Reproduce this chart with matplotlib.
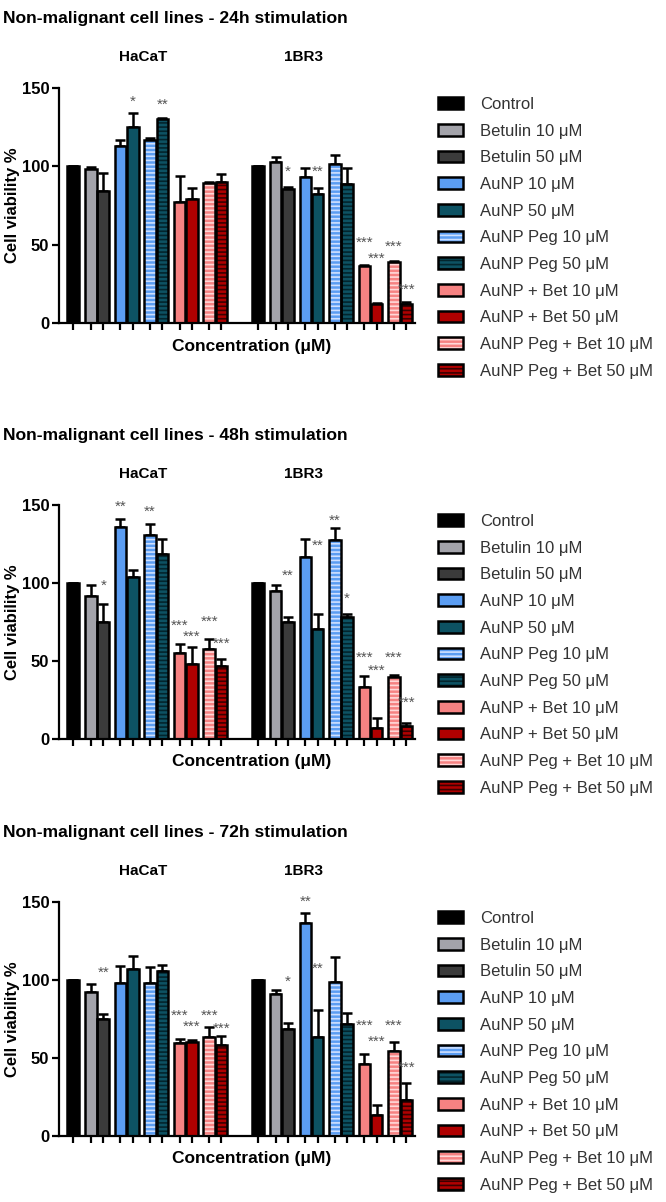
import matplotlib
matplotlib.use("Agg")
import matplotlib.pyplot as plt
from matplotlib.legend_handler import HandlerTuple
import numpy as np

plt.rcParams['font.family'] = ['Liberation Sans', 'DejaVu Sans']
plt.rcParams['hatch.linewidth'] = 1.2

# treatments (same order in every group)
treatments = ['Control', 'Betulin 10 \u03bcM', 'Betulin 50 \u03bcM', 'AuNP 10 \u03bcM', 'AuNP 50 \u03bcM',
              'AuNP Peg 10 \u03bcM', 'AuNP Peg 50 \u03bcM', 'AuNP + Bet 10 \u03bcM', 'AuNP + Bet 50 \u03bcM',
              'AuNP Peg + Bet 10 \u03bcM', 'AuNP Peg + Bet 50 \u03bcM']
fill_colors = ['#000000', '#a3a3aa', '#3b3b3b', '#5b9df2', '#0d5263', '#5b9df2', '#0d5263',
               '#f68282', '#b00000', '#f68282', '#b00000']
stripe_colors = [None, None, None, None, None, '#cfe0ff', '#03252d', None, None, '#ffd8d8', '#3a0000']
cell_lines = ['HaCaT', '1BR3']
times = ['24h', '48h', '72h']

# 24h
h24_hacat = [100, 98, 84, 113, 125, 117, 130, 77, 79, 89.5, 90]
h24_hacat_err = [0, 1.5, 12, 4, 9, 1, 0.8, 17, 7, 0.6, 5]
h24_hacat_stars = ['', '', '', '', '*', '', '**', '', '', '', '']
h24_hacat_star_y = [0, 0, 0, 0, 141, 0, 139, 0, 0, 0, 0]
h24_1br3 = [100, 102.6, 85.3, 93, 82.4, 101.3, 88.8, 36.3, 12.4, 39, 12.4]
h24_1br3_err = [0, 3.6, 1.7, 5.8, 3.6, 6, 10, 0.8, 0.5, 0.8, 0.8]
h24_1br3_stars = ['', '', '*', '', '**', '', '', '***', '***', '***', '***']
h24_1br3_star_y = [0, 0, 96.6, 0, 96.6, 0, 0, 51, 41, 48.6, 21]

# 48h
h48_hacat = [100, 91.7, 74.7, 135.7, 104, 131, 118.6, 55, 48, 57.8, 47]
h48_hacat_err = [0, 6.8, 12, 5.3, 4.3, 7, 9.8, 6, 11, 6, 4.3]
h48_hacat_stars = ['', '', '*', '**', '', '**', '', '***', '***', '***', '***']
h48_hacat_star_y = [0, 0, 98, 149, 0, 145.7, 0, 72.7, 65.7, 75.3, 61]
h48_1br3 = [100, 95, 74.7, 116.5, 70.4, 127.6, 78, 33.3, 7, 40, 8.1]
h48_1br3_err = [0, 3.4, 3.4, 12, 10, 7.5, 2.3, 7.3, 6.4, 0.8, 2]
h48_1br3_stars = ['', '', '**', '', '**', '**', '*', '***', '***', '***', '***']
h48_1br3_star_y = [0, 0, 104.5, 0, 123.7, 140, 89.6, 51.8, 44, 51.8, 23]

# 72h
h72_hacat = [100, 92.4, 74.7, 98.1, 107.3, 98.1, 105.6, 59.3, 60.4, 63.2, 58.2]
h72_hacat_err = [0, 4.9, 3.4, 10.7, 7.9, 10, 3.8, 2.6, 1, 6.4, 5.8]
h72_hacat_stars = ['', '', '**', '', '', '', '', '***', '***', '***', '***']
h72_hacat_star_y = [0, 0, 104.5, 0, 0, 0, 0, 76.8, 70, 76.8, 69]
h72_1br3 = [100, 91.3, 68.3, 136.8, 63.2, 98.8, 71.5, 46, 13.4, 54.6, 23]
h72_1br3_err = [0, 2.6, 4.3, 6.4, 17.5, 16, 7.5, 6.8, 6.2, 5.8, 10.7]
h72_1br3_stars = ['', '', '*', '**', '**', '', '', '***', '***', '***', '***']
h72_1br3_star_y = [0, 0, 98.8, 150, 107, 0, 0, 70.8, 60.4, 70.8, 43.7]

panels = [
    (times[0], [(h24_hacat, h24_hacat_err, h24_hacat_stars, h24_hacat_star_y),
                (h24_1br3, h24_1br3_err, h24_1br3_stars, h24_1br3_star_y)]),
    (times[1], [(h48_hacat, h48_hacat_err, h48_hacat_stars, h48_hacat_star_y),
                (h48_1br3, h48_1br3_err, h48_1br3_stars, h48_1br3_star_y)]),
    (times[2], [(h72_hacat, h72_hacat_err, h72_hacat_stars, h72_hacat_star_y),
                (h72_1br3, h72_1br3_err, h72_1br3_stars, h72_1br3_star_y)]),
]

W, H = 666, 1202
fig = plt.figure(figsize=(W / 100, H / 100), dpi=100)

# layout in pixels: axes top / bottom for each panel
ax_tops = [88, 505, 902]
ax_bots = [323, 739, 1136]
ax_left, ax_right = 59, 415

# bar positions: control alone, then pairs
base_x = np.array([0, 1.45, 2.45, 3.85, 4.85, 6.25, 7.25, 8.65, 9.65, 11.05, 12.05])
group_offset = 15
label_x = [5.7, 18.7]
bar_w = 0.93

for p, (tlabel, groups) in enumerate(panels):
    top, bot = ax_tops[p], ax_bots[p]
    ax = fig.add_axes([ax_left / W, 1 - bot / H, (ax_right - ax_left) / W, (bot - top) / H])

    all_x = []
    handles = []
    for g, (means, errs, stars, star_y) in enumerate(groups):
        x = base_x + g * group_offset
        all_x.extend(x)
        for i in range(len(treatments)):
            if stripe_colors[i]:
                b1 = ax.bar(x[i], means[i], bar_w, color=fill_colors[i], edgecolor=stripe_colors[i],
                            hatch='----', linewidth=0, zorder=2)
            else:
                b1 = ax.bar(x[i], means[i], bar_w, color=fill_colors[i], linewidth=0, zorder=2)
            b2 = ax.bar(x[i], means[i], bar_w, facecolor='none', edgecolor='black', linewidth=1.8, zorder=3)
            if g == 0:
                handles.append((b1[0], b2[0]))
        ax.errorbar(x, means, yerr=[np.zeros(len(errs)), errs], fmt='none', ecolor='black',
                    elinewidth=1.8, capsize=3.5, capthick=1.8, zorder=1)
        for i, s in enumerate(stars):
            if s:
                ax.text(x[i], star_y[i], s, ha='center', va='center', fontsize=11,
                        color='#555555', clip_on=False, zorder=5)
        ax.text(label_x[g], 170, cell_lines[g], ha='center', va='center', fontsize=11,
                fontweight='bold', clip_on=False)

    ax.set_xlim(-1.14, 27.76)
    ax.set_ylim(0, 150)
    ax.set_yticks([0, 50, 100, 150])
    ax.set_yticklabels(['0', '50', '100', '150'], fontweight='bold', fontsize=12)
    ax.set_xticks(all_x)
    ax.set_xticklabels([])
    ax.tick_params(axis='both', direction='out', length=5, width=1.6)
    ax.tick_params(axis='y', pad=2)
    for side in ['top', 'right']:
        ax.spines[side].set_visible(False)
    for side in ['left', 'bottom']:
        ax.spines[side].set_linewidth(1.6)
    ax.set_ylabel('Cell viability %', fontweight='bold', fontsize=12)
    ax.yaxis.set_label_coords(-0.11, 0.5)
    ax.set_xlabel('Concentration (\u03bcM)', fontweight='bold', fontsize=12.5)
    ax.xaxis.set_label_coords(0.54, -0.066)

    fig.text(3 / W, 1 - (top - 65) / H, 'Non-malignant cell lines - ' + tlabel + ' stimulation',
             ha='left', va='baseline', fontsize=12.6, fontweight='bold')

    ax.legend(handles, treatments, handler_map={tuple: HandlerTuple(ndivide=1)},
              loc='upper left', bbox_to_anchor=(438 / W, 1 - (top + 9) / H),
              bbox_transform=fig.transFigure, frameon=False, fontsize=12,
              handlelength=1.5, handleheight=0.72, handletextpad=1.0,
              labelspacing=0.7, borderpad=0, borderaxespad=0, labelcolor='#333333')

fig.savefig('out.png', dpi=100)
